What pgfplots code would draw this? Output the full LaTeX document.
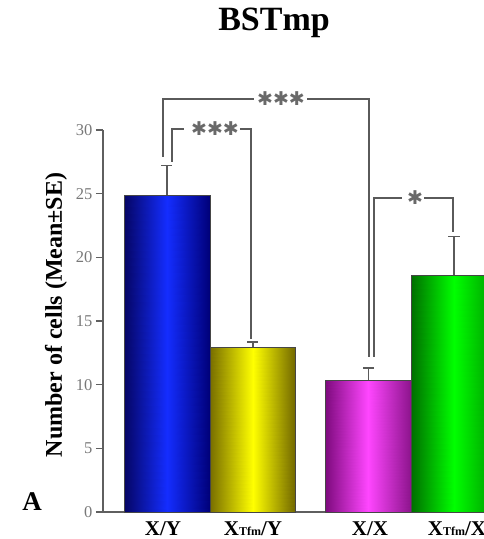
\documentclass[border=0pt]{standalone}
\usepackage{fontspec}
\setmainfont{Liberation Serif}
\newfontfamily\djv{DejaVu Sans}
\usepackage{pgfplots}
\usepgfplotslibrary{patchplots}
\pgfplotsset{compat=1.18}
\definecolor{axisgray}{RGB}{95,95,95}
\definecolor{tickgray}{RGB}{120,120,120}
\definecolor{lgray}{RGB}{90,90,90}
\definecolor{astgray}{RGB}{105,105,105}
\definecolor{edgegray}{RGB}{70,70,70}
\pgfplotsset{
  colormap={blueS}{rgb255(0cm)=(5,5,100); rgb255(1cm)=(20,45,255); rgb255(2cm)=(0,0,120)},
  colormap={yelS}{rgb255(0cm)=(120,110,0); rgb255(1cm)=(255,255,0); rgb255(2cm)=(115,105,0)},
  colormap={magS}{rgb255(0cm)=(125,10,125); rgb255(1cm)=(255,70,255); rgb255(2cm)=(140,20,140)},
  colormap={grnS}{rgb255(0cm)=(0,110,0); rgb255(1cm)=(0,255,0); rgb255(2cm)=(0,150,0)},
}
\pgfplotstableread{
x y c
124 0 0
167 0 1
167 24.9 1
124 24.9 0
167 0 1
210 0 2
210 24.9 2
167 24.9 1
}\blueT
\pgfplotstableread{
x y c
210.5 0 0
253 0 1
253 12.95 1
210.5 12.95 0
253 0 1
295.5 0 2
295.5 12.95 2
253 12.95 1
}\yelT
\pgfplotstableread{
x y c
325.5 0 0
368.5 0 1
368.5 10.37 1
325.5 10.37 0
368.5 0 1
411.5 0 2
411.5 10.37 2
368.5 10.37 1
}\magT
\pgfplotstableread{
x y c
411.5 0 0
454 0 1
454 18.62 1
411.5 18.62 0
454 0 1
497 0 2
497 18.62 2
454 18.62 1
}\grnT
\newcommand{\tfm}{{\fontsize{12}{12}\selectfont Tfm}}
\begin{document}
\begin{tikzpicture}
\begin{axis}[
  scale only axis, width=380pt, height=382pt,
  xmin=103, xmax=483, ymin=0, ymax=30,
  axis x line=bottom, axis y line=left,
  axis line style={-, draw=axisgray, line width=1.3pt},
  ytick={0,5,10,15,20,25,30},
  ytick style={draw=axisgray, line width=1.2pt},
  tick align=outside, major tick length=7pt,
  /pgf/number format/assume math mode=true,
  yticklabel style={font=\fontsize{16.5}{16.5}\selectfont, text=tickgray},
  xtick={163,253,370,457},
  xticklabels={{X/Y},{X\tfm/Y},{X/X},{X\tfm/X}},
  xtick style={draw=none},
  xticklabel style={font=\fontsize{21}{21}\selectfont\bfseries, text=black, yshift=0.5pt},
  clip=false,
  point meta min=0, point meta max=2,
  ylabel={Number of cells (Mean±SE)},
  every axis y label/.style={at={(axis description cs:-0.124,0.516)}, rotate=90, anchor=center,
     font=\fontsize{24}{24}\selectfont\bfseries},
  title={BSTmp},
  title style={font=\fontsize{34}{34}\selectfont\bfseries, at={(axis description cs:0.45,1.246)}, anchor=base},
]
% shaded bar bodies
\addplot[patch, patch type=rectangle, shader=interp, colormap name=blueS, point meta=explicit] table[meta=c] {\blueT};
\addplot[patch, patch type=rectangle, shader=interp, colormap name=yelS, point meta=explicit] table[meta=c] {\yelT};
\addplot[patch, patch type=rectangle, shader=interp, colormap name=magS, point meta=explicit] table[meta=c] {\magT};
\addplot[patch, patch type=rectangle, shader=interp, colormap name=grnS, point meta=explicit] table[meta=c] {\grnT};
% bar outlines (mean values)
\addplot[ybar, bar shift=0pt, bar width=86, fill=none, draw=edgegray, line width=0.7pt] coordinates {(167,24.9)};
\addplot[ybar, bar shift=0pt, bar width=85, fill=none, draw=edgegray, line width=0.7pt] coordinates {(253,12.95)};
\addplot[ybar, bar shift=0pt, bar width=86, fill=none, draw=edgegray, line width=0.7pt] coordinates {(368.5,10.37)};
\addplot[ybar, bar shift=0pt, bar width=85.5, fill=none, draw=edgegray, line width=0.7pt] coordinates {(454.25,18.62)};
% error bars (upper only)
\addplot[draw=none, mark=none,
  error bars/.cd, y dir=plus, y explicit,
  error bar style={draw=lgray, line width=1.5pt},
  error mark options={draw=lgray, line width=1.5pt, mark size=5.5pt, rotate=90}]
  coordinates {(167,24.9) +- (0,2.3) (253,12.95) +- (0,0.4) (368.5,10.37) +- (0,0.94) (454,18.62) +- (0,3.0)};
% significance brackets
\draw[lgray, line width=1.5pt] (axis cs:163,27.89) -- (axis cs:163,32.44) -- (axis cs:254,32.44);
\draw[lgray, line width=1.5pt] (axis cs:307,32.44) -- (axis cs:369,32.44) -- (axis cs:369,12.18);
\node[text=astgray, font=\djv\fontsize{19}{19}\selectfont, inner sep=0pt] at (axis cs:281,32.44) {✱✱✱};
\draw[lgray, line width=1.5pt] (axis cs:172,27.49) -- (axis cs:172,30.09) -- (axis cs:184,30.09);
\draw[lgray, line width=1.5pt] (axis cs:240,30.09) -- (axis cs:251,30.09) -- (axis cs:251,13.6);
\node[text=astgray, font=\djv\fontsize{19}{19}\selectfont, inner sep=0pt] at (axis cs:215,30.09) {✱✱✱};
\draw[lgray, line width=1.5pt] (axis cs:374,12.18) -- (axis cs:374,24.67) -- (axis cs:402,24.67);
\draw[lgray, line width=1.5pt] (axis cs:424,24.67) -- (axis cs:453,24.67) -- (axis cs:453,22.0);
\node[text=astgray, font=\djv\fontsize{19}{19}\selectfont, inner sep=0pt] at (axis cs:415,24.67) {✱};
\node[font=\fontsize{27}{27}\selectfont\bfseries, anchor=base west, inner sep=0pt] at (axis description cs:-0.213,0.005) {A};
\end{axis}
\pgfresetboundingbox
\path[use as bounding box] (-103pt,-27pt) rectangle (380pt,512pt);
\end{tikzpicture}
\end{document}
